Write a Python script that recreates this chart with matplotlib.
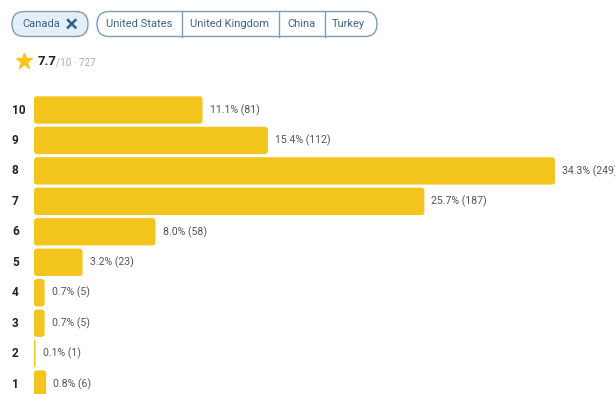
import matplotlib
matplotlib.use("Agg")
import matplotlib.pyplot as plt
from matplotlib.patches import FancyBboxPatch

plt.rcParams['font.family'] = ['Roboto', 'DejaVu Sans']

# ---- data ----
ratings = ["10", "9", "8", "7", "6", "5", "4", "3", "2", "1"]
percents = [11.1, 15.4, 34.3, 25.7, 8.0, 3.2, 0.7, 0.7, 0.1, 0.8]
counts = [81, 112, 249, 187, 58, 23, 5, 5, 1, 6]
countries = ["Canada", "United States", "United Kingdom", "China", "Turkey"]
score = "7.7"
score_max = "10"
total_votes = 727

W, H = 615, 394
fig = plt.figure(figsize=(W / 100, H / 100), dpi=100)
fig.patch.set_facecolor("white")

# ---- UI overlay in pixel coords ----
ui = fig.add_axes([0, 0, 1, 1])
ui.set_xlim(0, W)
ui.set_ylim(H, 0)
ui.axis("off")

chip_edge = "#8199b3"
chip_text = "#3a628c"
cy = 23.8

# Canada chip (selected)
ui.add_patch(FancyBboxPatch((12, 11.5), 76, 25, boxstyle="round,pad=0,rounding_size=12.5",
                            fc="#e3eef8", ec=chip_edge, lw=1.0))
ui.text(22, cy, countries[0], fontsize=8.0, color=chip_text, va="center", ha="left")
xc, yc, d = 71.7, cy, 4.6
ui.plot([xc - d, xc + d], [yc - d, yc + d], color="#2f5f91", lw=1.8, solid_capstyle="butt")
ui.plot([xc - d, xc + d], [yc + d, yc - d], color="#2f5f91", lw=1.8, solid_capstyle="butt")

# segmented group
gx0, gx1 = 97, 377
ui.add_patch(FancyBboxPatch((gx0, 11.5), gx1 - gx0, 25, boxstyle="round,pad=0,rounding_size=12.5",
                            fc="white", ec=chip_edge, lw=1.0))
seps = [181.5, 278.5, 325]
for s in seps:
    ui.plot([s, s], [11.5, 36.5], color=chip_edge, lw=1.0)
centers = [139, 230, 301.5, 348]
for name, cx in zip(countries[1:], centers):
    ui.text(cx, cy, name, fontsize=8.0, color=chip_text, va="center", ha="center")

# star rating line
ui.plot([23.5], [61], marker="*", markersize=12, color="#f5c518", mec="#f5c518")
ui.text(38, 61.5, score, fontsize=9.5, fontweight="bold", color="#222222", va="center")
ui.text(56, 62, f"/{score_max} · {total_votes}", fontsize=7.2, color="#aaaaaa", va="center")

# ---- bar chart ----
px_per_pct = 15.19
x0_px = 34
ax_top_px = 80
row_px = 30.45
first_center_px = 110
ax = fig.add_axes([x0_px / W, 0, (W - x0_px) / W, (H - ax_top_px) / H])
ax.set_xlim(0, (W - x0_px) / px_per_pct)
ytop = -(first_center_px - ax_top_px) / row_px
ybot = (H - first_center_px) / row_px
ax.set_ylim(ybot, ytop)
ax.axis("off")
ax.patch.set_alpha(0)

ypos = list(range(len(ratings)))
bar_h = 0.9
bars = ax.barh(ypos, percents, height=bar_h, color="#f3c51c")
rx = 3 / px_per_pct
ry = 3 / row_px
for b in bars:
    x, y = b.get_x(), b.get_y()
    w, h = b.get_width(), b.get_height()
    r = min(rx, w / 2)
    p = FancyBboxPatch((x, y), w, h, boxstyle=f"round,pad=0,rounding_size={r}",
                       mutation_aspect=ry / rx, fc="#f3c51c", ec="none", clip_on=False)
    ax.add_patch(p)
    b.remove()

for yp, pct, cnt in zip(ypos, percents, counts):
    ax.text(pct + 7 / px_per_pct, yp, f"{pct:.1f}% ({cnt})", fontsize=7.6,
            color="#555555", va="center", ha="left", clip_on=False)

for yp, lab in zip(ypos, ratings):
    fig.text(12 / W, 1 - (first_center_px + yp * row_px) / H, lab, fontsize=8.6,
             fontweight="bold", color="#222222", va="center", ha="left")

fig.savefig("out.png", dpi=100, facecolor="white")
